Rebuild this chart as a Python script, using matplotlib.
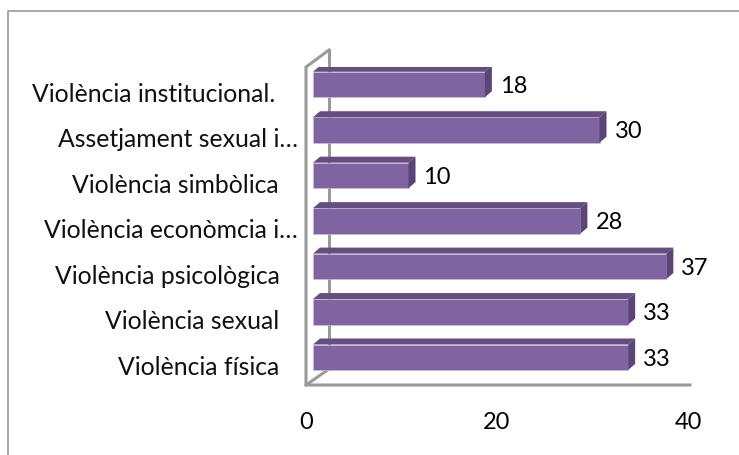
import matplotlib
matplotlib.use("Agg")
import matplotlib.pyplot as plt
from matplotlib.patches import Polygon
from matplotlib.lines import Line2D
from matplotlib.transforms import ScaledTranslation, IdentityTransform

plt.rcParams['font.family'] = ['Lato', 'DejaVu Sans']

# dades
categories = ["Violència física", "Violència sexual", "Violència psicològica",
              "Violència econòmcia i…", "Violència simbòlica",
              "Assetjament sexual i…", "Violència institucional."]
values = [33, 33, 37, 28, 10, 30, 18]
xticks = [0, 20, 40]
# marge dret de cada etiqueta (punts)
label_pads = [19, 19, 19, 6, 19.5, 6, 22]

W, H = 739, 456
fig = plt.figure(figsize=(W / 100, H / 100), dpi=100)

# x=0 al pixel 306, x=40 al 688; y de 386 a 68
ax = fig.add_axes([306 / W, 1 - 386 / H, (688 - 306) / W, (386 - 68) / H])
ax.set_xlim(0, 40)
ax.set_ylim(-0.611, 6.385)
ax.patch.set_visible(False)
for s in ax.spines.values():
    s.set_visible(False)

grey = "#9a9a9a"
def line(xs, ys, lw=2.2, z=10):
    ax.add_line(Line2D([x / W for x in xs], [1 - y / H for y in ys],
                       transform=fig.transFigure, color=grey, lw=lw, zorder=z, clip_on=False))

# marc exterior: nomes esquerra i dalt
line([8, 8, 739], [456, 12, 12], lw=1.2)
# paret del fons, darrere de les barres
line([329, 329], [51, 370], z=2.9)
# paret de davant i terra
line([329, 306, 306, 690], [51, 68, 386, 386])
line([306, 329], [386, 370], z=2.9)

# barres
dx, dy = 7 / 100, 6 / 100
front = ax.transData + ScaledTranslation(7 / 100, 0, fig.dpi_scale_trans)
h = 0.28
main, top_c, side_c = "#8064a2", "#664d80", "#5b4577"
for i, v in enumerate(values):
    ax.barh(i, v, height=2 * h, color=main, edgecolor="#c9bcd9", linewidth=0.5,
            transform=front, zorder=3)
    back = front + ScaledTranslation(dx, dy, fig.dpi_scale_trans)
    p_front = front.transform([(0, i + h), (v, i + h), (v, i - h)])
    p_back = back.transform([(0, i + h), (v, i + h), (v, i - h)])
    top = [p_front[0], p_back[0], p_back[1], p_front[1]]
    side = [p_front[1], p_back[1], p_back[2], p_front[2]]
    ax.add_patch(Polygon(top, closed=True, transform=IdentityTransform(), color=top_c, lw=0, zorder=4))
    ax.add_patch(Polygon(side, closed=True, transform=IdentityTransform(), color=side_c, lw=0, zorder=4))
    ax.annotate(str(v), xy=(v, i), xycoords=front, xytext=(15, -1), textcoords="offset pixels",
                fontsize=17, va="center", ha="left", color="black")

ax.set_yticks(range(len(categories)))
ax.set_yticklabels(categories, fontsize=17.8, color="#111111")
ax.set_xticks(xticks)
ax.tick_params(axis="both", length=0)
ax.tick_params(axis="x", labelsize=17, pad=19)
down = ScaledTranslation(0, -7 / 100, fig.dpi_scale_trans)
for tick, pad in zip(ax.yaxis.get_major_ticks(), label_pads):
    tick.set_pad(pad)
    tick.label1.set_transform(tick.label1.get_transform() + down)

fig.savefig("out.png", dpi=100)
